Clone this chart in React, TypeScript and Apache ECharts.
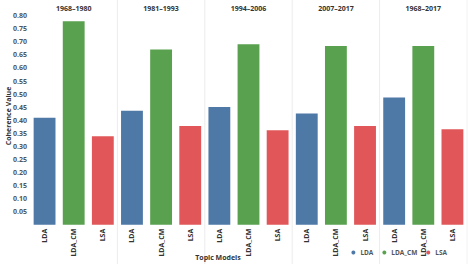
import React, { useEffect, useRef } from "react";
import * as echarts from "echarts";

const periods = ["1968–1980", "1981–1993", "1994–2006", "2007–2017", "1968–2017"];
const models = ["LDA", "LDA_CM", "LSA"];
const ldaValues = [0.409, 0.436, 0.451, 0.426, 0.487];
const ldaCmValues = [0.779, 0.671, 0.691, 0.684, 0.684];
const lsaValues = [0.339, 0.378, 0.362, 0.378, 0.365];
const colors = ["#4e79a7", "#59a14f", "#e15759"];

export default function App() {
  const ref = useRef<HTMLDivElement>(null);
  useEffect(() => {
    document.body.style.margin = "0";
    const chart = echarts.init(ref.current!, null, { renderer: "svg" });
    const left0 = 30;
    const pw = 87.4;
    const top = 15.7;
    const height = 209;
    const grids: any[] = [];
    const xAxes: any[] = [];
    const yAxes: any[] = [];
    const series: any[] = [];
    const graphics: any[] = [];
    const allVals = [ldaValues, ldaCmValues, lsaValues];
    periods.forEach((p, i) => {
      grids.push({ left: left0 + i * pw, width: pw, top, height });
      xAxes.push({
        type: "category",
        gridIndex: i,
        data: models,
        axisLine: { show: false },
        axisTick: { show: false },
        axisLabel: {
          rotate: 90,
          fontSize: 7,
          fontWeight: "bold",
          color: "#333",
          fontFamily: "Open Sans",
          margin: 4,
        },
      });
      yAxes.push({
        type: "value",
        gridIndex: i,
        min: 0,
        max: 0.8,
        interval: 0.05,
        splitLine: { show: false },
        axisLine: { show: false },
        axisTick: { show: false },
        axisLabel: {
          show: i === 0,
          fontSize: 7,
          fontWeight: "bold",
          color: "#555",
          fontFamily: "Open Sans",
          margin: 3,
          formatter: (v: number) => (v === 0 ? "" : v.toFixed(2)),
        },
      });
      models.forEach((m, k) => {
        const data = models.map((_, j) => (j === k ? allVals[k][i] : "-"));
        series.push({
          type: "bar",
          name: m,
          xAxisIndex: i,
          yAxisIndex: i,
          data,
          barWidth: "75%",
          barGap: "-100%",
          itemStyle: { color: colors[k] },
        });
      });
      graphics.push({
        type: "text",
        x: left0 + i * pw + pw / 2,
        y: 8,
        style: {
          text: p,
          fontSize: 7,
          fontWeight: "bold",
          fill: "#333",
          fontFamily: "Open Sans",
          align: "center",
          verticalAlign: "middle",
        },
      });
      if (i > 0) {
        graphics.push({
          type: "line",
          shape: { x1: left0 + i * pw, y1: 0, x2: left0 + i * pw, y2: 264 },
          style: { stroke: "#ececec", lineWidth: 1 },
        });
      }
    });
    graphics.push({
      type: "line",
      shape: { x1: left0 + 5 * pw, y1: 0, x2: left0 + 5 * pw, y2: 264 },
      style: { stroke: "#f2f2f2", lineWidth: 1 },
    });
    graphics.push({
      type: "text",
      x: 8,
      y: 116,
      rotation: Math.PI / 2,
      style: {
        text: "Coherence Value",
        fontSize: 7,
        fontWeight: "bold",
        fill: "#333",
        fontFamily: "Open Sans",
        align: "center",
        verticalAlign: "middle",
      },
    });
    graphics.push({
      type: "text",
      x: 218,
      y: 257,
      style: {
        text: "Topic Models",
        fontSize: 7,
        fontWeight: "bold",
        fill: "#333",
        fontFamily: "Open Sans",
        align: "center",
        verticalAlign: "middle",
      },
    });
    chart.setOption({
      animation: false,
      backgroundColor: "#fff",
      grid: grids,
      xAxis: xAxes,
      yAxis: yAxes,
      series,
      legend: {
        data: models,
        right: 18,
        bottom: 3,
        icon: "circle",
        itemWidth: 4,
        itemHeight: 4,
        itemGap: 9,
        textStyle: { fontSize: 6.5, fontWeight: "bold", color: "#555", fontFamily: "Open Sans" },
      },
      graphic: graphics,
    });
    return () => chart.dispose();
  }, []);
  return <div ref={ref} style={{ width: 470, height: 264 }} />;
}
